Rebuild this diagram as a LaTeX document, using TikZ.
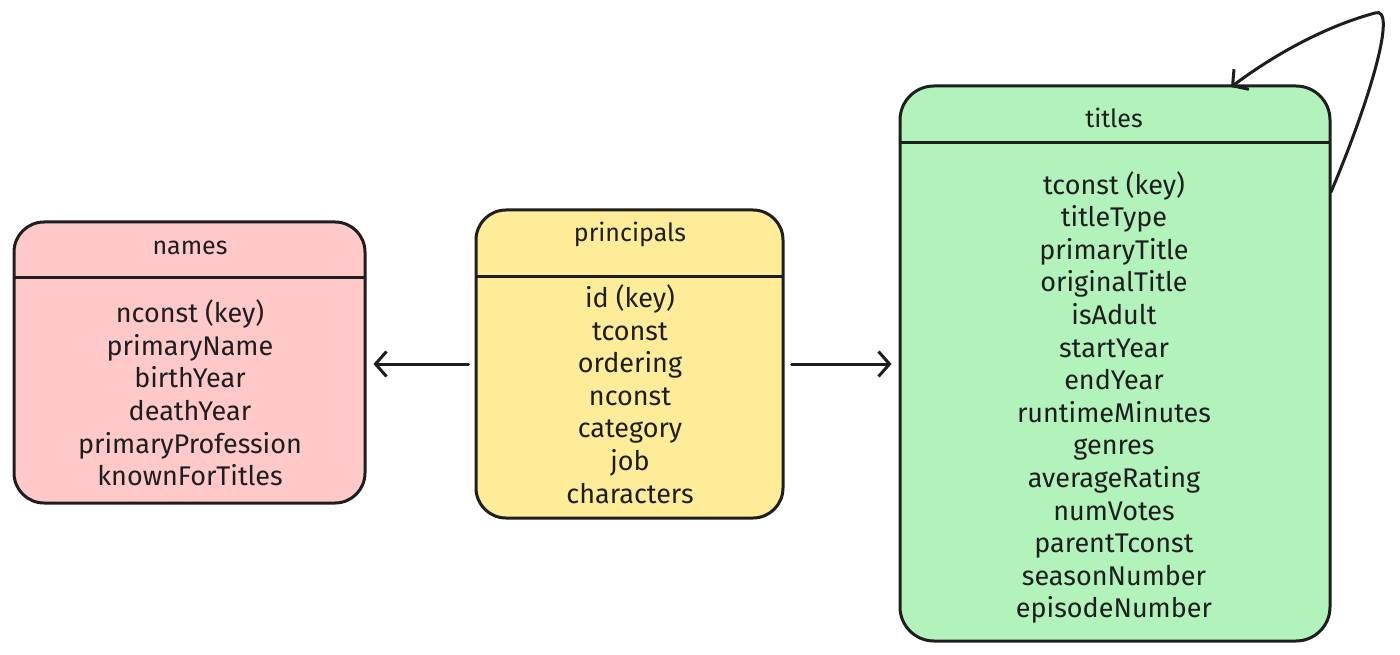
\documentclass[tikz,border=0pt]{standalone}
\usepackage{fontspec}
\setmainfont{Fira Sans}
\usetikzlibrary{arrows.meta}
\definecolor{namesfill}{HTML}{FFC9C9}
\definecolor{princfill}{HTML}{FFEC99}
\definecolor{titlesfill}{HTML}{B2F2BB}
\definecolor{ink}{HTML}{1E1E1E}
\tikzset{
  tbl/.style={draw=ink, line width=3pt, rounded corners=30pt, inner sep=0pt},
  hdrline/.style={draw=ink, line width=3pt},
  hdrtext/.style={font=\fontsize{25}{30}\selectfont, text=ink, inner sep=0pt},
  fields/.style={font=\fontsize{27}{32.6}\selectfont, text=ink, align=center, inner sep=0pt},
  arr/.style={draw=ink, line width=3pt, line cap=round, -{Straight Barb[length=11pt,width=25pt,line width=3pt]}}
}
\begin{document}
\begin{tikzpicture}[x=1pt,y=-1pt]
\path[use as bounding box, fill=white] (0,0) rectangle (1400,655);
% boxes
\node[tbl, fill=namesfill, minimum width=351pt, minimum height=281pt] (names) at (189.5,362.5) {};
\node[tbl, fill=princfill, minimum width=307pt, minimum height=308pt] (princ) at (629.5,364) {};
\node[tbl, fill=titlesfill, rounded corners=34pt, minimum width=430pt, minimum height=555pt] (titles) at (1115,363.5) {};
% header lines
\coordinate (nh1) at (14,277); \coordinate (nh2) at (365,277);
\coordinate (ph1) at (476,276); \coordinate (ph2) at (783,276);
\coordinate (th1) at (900,143); \coordinate (th2) at (1330,143);
\draw[hdrline] (nh1) -- (nh2);
\draw[hdrline] (ph1) -- (ph2);
\draw[hdrline] (th1) -- (th2);
% headers
\node[hdrtext] (namesT) at (190,248) {names};
\node[hdrtext] (princT) at (630,234) {principals};
\node[hdrtext] (titlesT) at (1114,118) {titles};
% fields
\node[fields] (namesF) at (190,393) {nconst (key)\\primaryName\\birthYear\\deathYear\\primaryProfession\\knownForTitles};
\node[fields] (princF) at (630,394) {id (key)\\tconst\\ordering\\nconst\\category\\job\\characters};
\node[fields] (titlesF) at (1114,397.5) {tconst (key)\\titleType\\primaryTitle\\originalTitle\\isAdult\\startYear\\endYear\\runtimeMinutes\\genres\\averageRating\\numVotes\\parentTconst\\seasonNumber\\episodeNumber};
% connectors
\draw[arr, shorten <=6pt, shorten >=7pt] (princ.west) -- (names.east |- princ.west);
\draw[arr, shorten <=7pt, shorten >=7pt] (princ.east) -- (titles.west |- princ.east);
\coordinate (loopS) at (1331,192);
\coordinate (loopE) at (1231,87);
\draw[arr] (loopS) .. controls (1370,100) and (1398,5) .. (1375,13) .. controls (1320,28) and (1270,58) .. (loopE);
\end{tikzpicture}
\end{document}
